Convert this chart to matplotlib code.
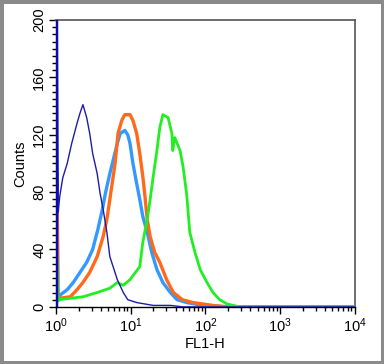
import matplotlib
matplotlib.use('Agg')
import matplotlib.pyplot as plt
from matplotlib.ticker import MultipleLocator, LogLocator, NullFormatter

plt.rcParams['font.family'] = ['Liberation Sans', 'DejaVu Sans']

# FL1-H channel positions and counts
navy_x = [1.0, 1.0, 1.03, 1.07, 1.12, 1.23, 1.41, 1.62, 1.91, 2.09, 2.29, 2.57, 2.82, 3.09,
          3.55, 3.89, 4.27, 4.79, 5.25, 6.61, 7.94, 9.12, 12.0, 20.0, 33.9, 50.0, 10000]
navy_y = [0, 230, 230, 66, 77, 90, 100, 114, 128, 135, 141, 132, 121, 107,
          93, 79, 68, 52, 35, 19, 10, 5, 3, 1, 1, 0, 0]

lb_x = [1.0, 1.0, 1.03, 1.06, 1.12, 1.41, 1.70, 2.09, 2.57, 3.09, 3.63, 4.17, 4.57, 5.25,
        6.61, 7.24, 8.32, 9.12, 9.77, 10.7, 12.0, 13.2, 14.5, 16.6, 19.1, 22.4, 26.9,
        33.9, 41.7, 56.2, 93.3, 200, 10000]
lb_y = [0, 93, 93, 6, 8, 12, 17, 24, 31, 40, 54, 68, 79, 93,
        114, 121, 123, 120, 114, 100, 86, 75, 63, 52, 38, 26, 17,
        10, 5, 3, 1, 0, 0]

or_x = [1.0, 1.0, 1.03, 1.06, 1.12, 1.55, 1.91, 2.29, 2.82, 3.55, 4.27, 4.79, 5.25, 6.17,
        6.76, 7.59, 8.32, 9.77, 10.7, 12.0, 13.2, 14.5, 15.5, 16.6, 18.2, 20.9, 24.5,
        30.2, 37.2, 49.0, 67.6, 126, 200, 10000]
or_y = [0, 85, 85, 5, 6, 7, 12, 17, 24, 35, 49, 61, 75, 100,
        121, 130, 134, 134, 130, 121, 107, 91, 77, 61, 49, 38, 31,
        19, 10, 5, 3, 1, 0, 0]

gr_x = [1.0, 1.0, 1.03, 1.06, 1.12, 1.55, 2.29, 3.55, 5.25, 6.61, 7.94, 9.77, 13.2, 14.5,
        16.6, 18.2, 20.0, 22.4, 24.5, 26.9, 31.6, 35.5, 36.5, 38.9, 45.7, 50.1, 56.2,
        61.7, 72.4, 85.1, 105, 126, 155, 195, 288, 10000]
gr_y = [0, 33, 33, 4, 5, 6, 7, 10, 13, 17, 15, 19, 28, 45,
        61, 75, 91, 109, 125, 134, 132, 121, 109, 118, 109, 98, 78,
        52, 38, 26, 17, 10, 5, 2, 0, 0]

fig = plt.figure(figsize=(3.84, 3.64), dpi=100)
ax = fig.add_axes([0.146, 0.157, 0.778, 0.788])

ax.plot(lb_x, lb_y, color='#3399ff', lw=2.4, zorder=3)
ax.plot(or_x, or_y, color='#ff6a1a', lw=2.4, zorder=3)
ax.plot(gr_x, gr_y, color='#22ee22', lw=2.0, zorder=3)
ax.plot(navy_x, navy_y, color='#1c1caa', lw=1.0, zorder=3)
# first channel of the navy histogram is off scale, drawn heavier
ax.vlines(navy_x[1], 0, navy_y[1], color='#0a0ab4', lw=2.5, zorder=4)

ax.set_xscale('log')
ax.set_xlim(1, 10000)
ax.set_ylim(0, 200)
ax.yaxis.set_major_locator(MultipleLocator(40))
ax.yaxis.set_minor_locator(MultipleLocator(5))
ax.xaxis.set_major_locator(LogLocator(base=10))
ax.xaxis.set_minor_locator(LogLocator(base=10, subs=range(2, 10)))
ax.xaxis.set_minor_formatter(NullFormatter())

ax.tick_params(which='both', direction='out', width=1, labelsize=10.5, pad=2)
ax.tick_params(which='major', length=5)
ax.tick_params(which='minor', length=3)
for lab in ax.get_yticklabels():
    lab.set_rotation(90)
    lab.set_va('center')

for side in ['top', 'right']:
    ax.spines[side].set_color('#555555')
    ax.spines[side].set_linewidth(1.2)
for side in ['left', 'bottom']:
    ax.spines[side].set_color('black')
    ax.spines[side].set_linewidth(1.0)

ax.set_xlabel('FL1-H', fontsize=10.5, labelpad=1)
ax.set_ylabel('Counts', fontsize=10.5, labelpad=4)

fig.patch.set_facecolor('white')
fig.patch.set_edgecolor('#8a8a8a')
fig.patch.set_linewidth(5)
fig.savefig('out.png', dpi=100)
